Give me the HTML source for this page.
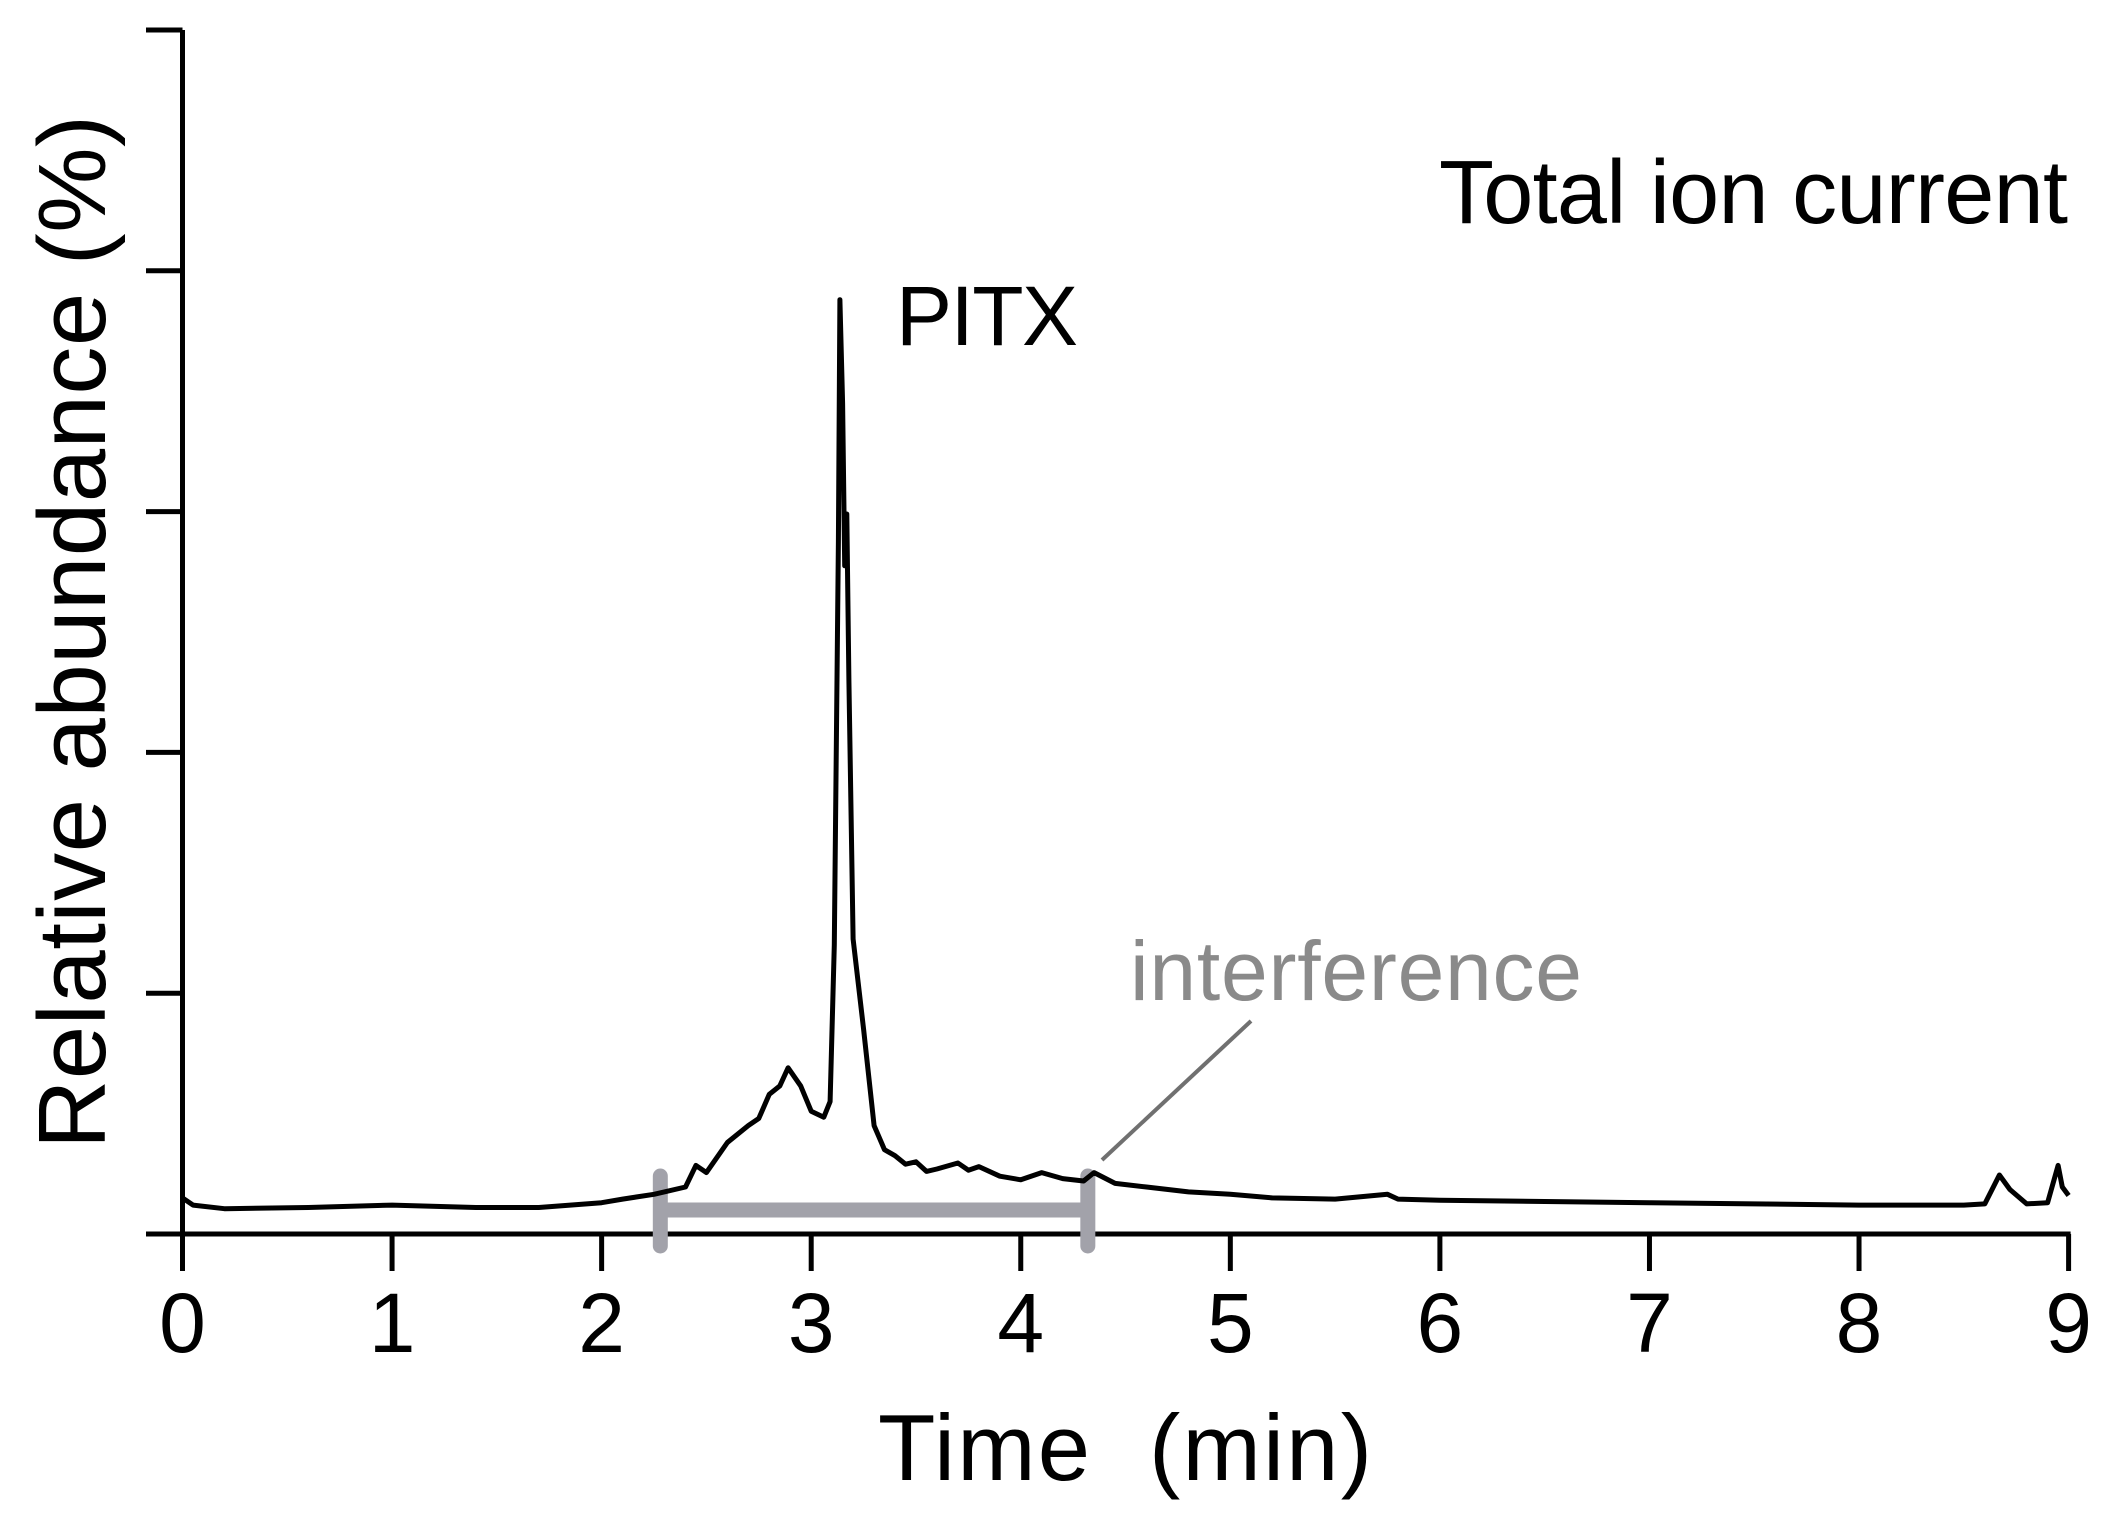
<!DOCTYPE html>
<html><head><meta charset="utf-8"><style>
html,body{margin:0;padding:0;background:#fff;}
svg{display:block;font-family:"Liberation Sans",Arial,sans-serif;}
</style></head><body>
<svg id="chart" width="2120" height="1532" viewBox="0 0 2120 1532" xmlns="http://www.w3.org/2000/svg">
<rect width="2120" height="1532" fill="#fff"/>
<g id="axes"></g>
<g id="marks"></g>
<text x="2068" y="223" font-size="90" text-anchor="end" fill="#000" textLength="629">Total ion current</text>
<text x="896" y="345" font-size="84" fill="#000" textLength="182">PITX</text>
<text x="1130" y="1000" font-size="84" fill="#8a8a8a" textLength="452">interference</text>
<line x1="1102" y1="1160" x2="1251" y2="1021" stroke="#707070" stroke-width="4"/>
<text x="1125" y="1480" font-size="94" text-anchor="middle" fill="#000" xml:space="preserve" textLength="494">Time  (min)</text>
<text transform="translate(105,632) rotate(-90)" font-size="96" text-anchor="middle" fill="#000" textLength="1034">Relative abundance (%)</text>
</svg>
<script>
const times = [0,0.05,0.2,0.6,1,1.4,1.7,2.0,2.1,2.25,2.4,2.45,2.5,2.6,2.7,2.75,2.8,2.85,2.89,2.95,3.0,3.06,3.09,3.11,3.13,3.137,3.15,3.16,3.17,3.18,3.2,3.25,3.3,3.35,3.4,3.45,3.5,3.55,3.6,3.7,3.75,3.8,3.9,4.0,4.1,4.2,4.3,4.35,4.45,4.6,4.8,5.0,5.2,5.5,5.75,5.8,6.0,6.5,7.0,7.5,8.0,8.5,8.6,8.67,8.72,8.8,8.9,8.95,8.97,9.0];
const abundance = [3.0,2.4,2.1,2.2,2.4,2.2,2.2,2.6,2.9,3.3,3.9,5.7,5.1,7.6,9.0,9.6,11.6,12.3,13.8,12.3,10.2,9.7,11.0,24.0,57.5,77.6,69.0,55.5,59.8,46.0,24.5,17.0,9.0,7.0,6.5,5.8,6.0,5.2,5.4,5.9,5.3,5.6,4.8,4.5,5.1,4.6,4.4,5.1,4.2,3.9,3.5,3.3,3.0,2.9,3.3,2.9,2.8,2.7,2.6,2.5,2.4,2.4,2.5,4.9,3.7,2.5,2.6,5.7,3.9,3.2];
const xTicks = [0,1,2,3,4,5,6,7,8,9];
const yTicks = [0,20,40,60,80,100];
const interferenceRange = [2.28,4.32];

const NS="http://www.w3.org/2000/svg";
const X0=182.5, X1=2068.6, Y0=1234, Y1=30;
const xs = t => X0 + (t-0)/(9-0)*(X1-X0);
const ys = v => Y0 - v/100*(Y0-Y1);
function mk(tag, attrs, parent){const e=document.createElementNS(NS,tag);for(const k in attrs)e.setAttribute(k,attrs[k]);parent.appendChild(e);return e;}
const axes=document.getElementById('axes'), marks=document.getElementById('marks');

let a=mk('line',{x1:X0,y1:Y1,x2:X0,y2:Y0+2,stroke:'#000','stroke-width':5},axes);


a=mk('line',{x1:146,y1:Y0,x2:X1+2,y2:Y0,stroke:'#000','stroke-width':5},axes);


yTicks.forEach(v=>{
  const t=mk('line',{x1:146,y1:ys(v),x2:X0,y2:ys(v),stroke:'#000','stroke-width':5},axes);
  
  
});
xTicks.forEach(v=>{
  const t=mk('line',{x1:xs(v),y1:Y0,x2:xs(v),y2:Y0+37,stroke:'#000','stroke-width':5},axes);
  
  
  const l=mk('text',{x:xs(v),y:1352,'font-size':84,'text-anchor':'middle',fill:'#000'},axes);
  l.textContent=String(v);
  
  
});

const ga=xs(interferenceRange[0]), gb=xs(interferenceRange[1]);
let b=mk('line',{x1:ga,y1:1210,x2:gb,y2:1210,stroke:'#a2a2aa','stroke-width':15},marks);


[ga,gb].forEach(x=>{
  const c=mk('line',{x1:x,y1:1176,x2:x,y2:1246,stroke:'#a2a2aa','stroke-width':15,'stroke-linecap':'round'},marks);
  
  
});

let d='';
times.forEach((t,i)=>{d+=(i?'L':'M')+xs(t).toFixed(1)+','+ys(abundance[i]).toFixed(1);});
const p=mk('path',{d:d,fill:'none',stroke:'#000','stroke-width':5,'stroke-linejoin':'round'},marks);


</script>
</body></html>
